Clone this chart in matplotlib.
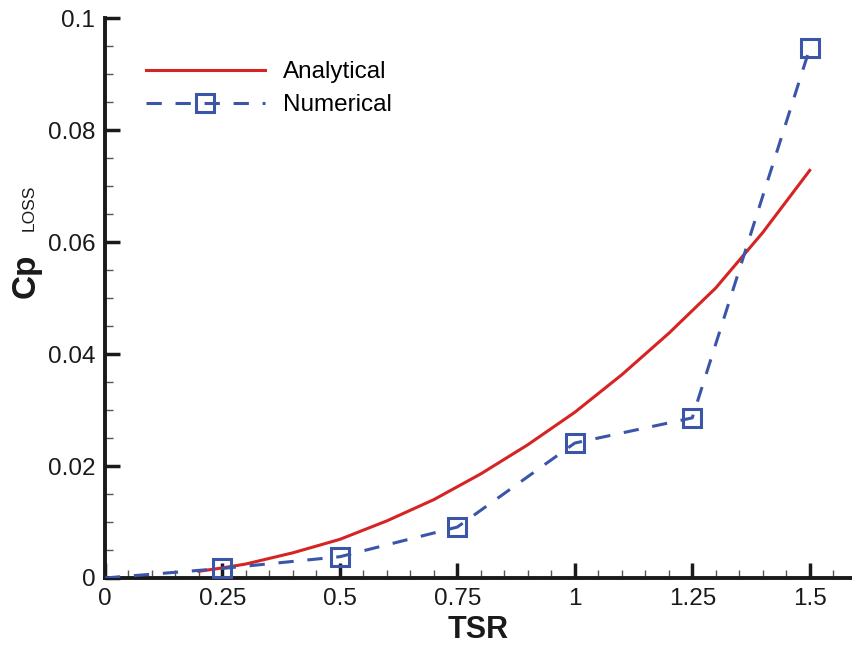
import matplotlib.pyplot as plt
from matplotlib.ticker import MultipleLocator, FuncFormatter

plt.rcParams['font.family'] = ['Liberation Sans', 'DejaVu Sans']

# analytical curve
tsr_an = [0.2, 0.25, 0.3, 0.4, 0.5, 0.6, 0.7, 0.8, 0.9, 1.0, 1.1, 1.2, 1.3, 1.4, 1.5]
cp_an = [0.0012, 0.0018, 0.0025, 0.0045, 0.0069, 0.0102, 0.0140, 0.0186, 0.0238,
         0.0296, 0.0363, 0.0437, 0.0518, 0.0617, 0.0728]

# numerical results
tsr_num = [0, 0.25, 0.5, 0.75, 1.0, 1.25, 1.5]
cp_num = [0.0, 0.0017, 0.0038, 0.0091, 0.0241, 0.0286, 0.0946]

fig = plt.figure(figsize=(8.52, 6.45), dpi=100)
ax = fig.add_axes([0.1232, 0.1039, 0.8768, 0.868])

ax.plot(tsr_an, cp_an, color='#d62323', lw=2.2, label='Analytical', zorder=3)
ax.plot(tsr_num, cp_num, color='#3b55a8', lw=2.2, ls=(0, (5, 4.5)),
        marker='s', ms=13, mfc='none', mec='#3b55a8', mew=2.2,
        markevery=[1, 2, 3, 4, 5, 6], label='Numerical', zorder=4)

ax.set_xlim(0, 1.59)
ax.set_ylim(0, 0.1)

for s in ['top', 'right']:
    ax.spines[s].set_visible(False)
for s in ['left', 'bottom']:
    ax.spines[s].set_linewidth(2.8)
    ax.spines[s].set_color('#1a1a1a')

ax.xaxis.set_major_locator(MultipleLocator(0.25))
ax.xaxis.set_minor_locator(MultipleLocator(0.05))
ax.yaxis.set_major_locator(MultipleLocator(0.02))
ax.yaxis.set_minor_locator(MultipleLocator(0.005))
fmt = FuncFormatter(lambda v, p: '%g' % round(v, 4))
ax.xaxis.set_major_formatter(fmt)
ax.yaxis.set_major_formatter(fmt)

ax.tick_params(which='major', direction='in', length=11, width=2.5,
               color='#1a1a1a', labelsize=17.5, pad=7, labelcolor='#1a1a1a')
ax.tick_params(which='minor', direction='in', length=6, width=1, color='#555555')

ax.set_xlabel('TSR', fontsize=22, fontweight='bold', labelpad=4, color='#1a1a1a')

# y label: bold Cp with small LOSS subscript
fig.text(0.031, 0.572, 'Cp', rotation=90, fontsize=24, fontweight='bold',
         ha='center', va='center', color='#1a1a1a')
fig.text(0.0345, 0.678, 'LOSS', rotation=90, fontsize=12.5,
         ha='center', va='center', color='#1a1a1a')

ax.legend(loc='upper left', bbox_to_anchor=(0.025, 0.962), frameon=False,
          fontsize=17.5, handlelength=4.9, handletextpad=0.75, labelspacing=0.45)

fig.savefig('out.png', dpi=100)
